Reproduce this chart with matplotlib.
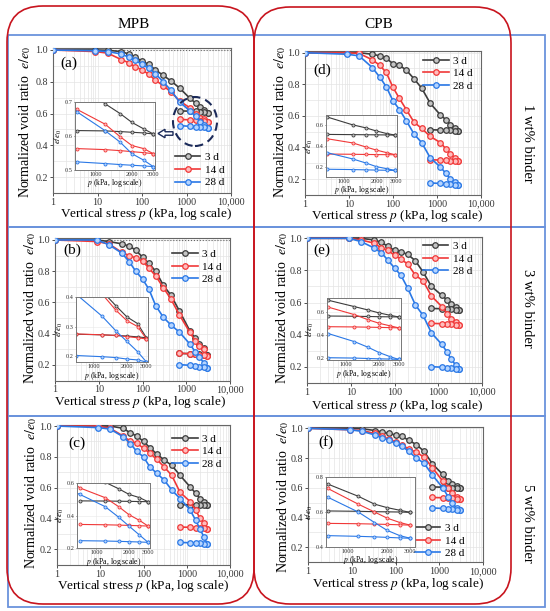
import matplotlib
matplotlib.use("Agg")
import matplotlib.pyplot as plt
from matplotlib.patches import FancyBboxPatch, Rectangle, Ellipse, FancyArrow
from matplotlib.ticker import FixedLocator, NullFormatter, MultipleLocator, LogLocator, FixedFormatter

plt.rcParams['font.family'] = ['Liberation Serif', 'DejaVu Serif']
plt.rcParams['mathtext.fontset'] = 'stix'

# ---------------- data ----------------
p_load = [1, 9, 17, 34, 50, 70, 100, 140, 200, 300, 450, 700, 1200, 1600, 2000, 2500, 3000]
p_unload = [3000, 2500, 2000, 1600, 1200, 700]
ages = ["3 d", "14 d", "28 d"]
x_ticks = [1, 10, 100, 1000, 10000]
x_tick_labels = ["1", "10", "100", "1000", "10,000"]
y_ticks = [0.2, 0.4, 0.6, 0.8, 1.0]
inset_x_ticks = [1000, 2000, 3000]

# (a) MPB 1 wt%
a3_load = [1.0, 1.0, 0.998, 0.99, 0.975, 0.955, 0.93, 0.91, 0.875, 0.84, 0.805, 0.76, 0.695, 0.666, 0.64, 0.621, 0.606]
a3_unl = [0.606, 0.609, 0.611, 0.613, 0.615, 0.616]
a14_load = [1.0, 0.99, 0.98, 0.94, 0.92, 0.895, 0.875, 0.848, 0.81, 0.775, 0.735, 0.679, 0.635, 0.598, 0.572, 0.563, 0.548]
a14_unl = [0.548, 0.551, 0.554, 0.557, 0.56, 0.563]
a28_load = [1.0, 0.995, 0.99, 0.975, 0.955, 0.935, 0.91, 0.885, 0.85, 0.8, 0.745, 0.672, 0.616, 0.582, 0.548, 0.529, 0.51]
a28_unl = [0.51, 0.512, 0.514, 0.516, 0.519, 0.524]
# (b) MPB 3 wt%
b3_load = [1.0, 1.0, 0.99, 0.975, 0.96, 0.935, 0.89, 0.85, 0.8, 0.71, 0.645, 0.545, 0.42, 0.37, 0.333, 0.31, 0.262]
b3_unl = [0.262, 0.265, 0.268, 0.27, 0.272, 0.274]
b14_load = [1.0, 0.99, 0.975, 0.92, 0.9, 0.885, 0.865, 0.82, 0.77, 0.695, 0.62, 0.52, 0.41, 0.355, 0.32, 0.3, 0.258]
b14_unl = [0.258, 0.262, 0.266, 0.27, 0.272, 0.275]
b28_load = [1.0, 1.0, 0.97, 0.915, 0.86, 0.8, 0.75, 0.685, 0.58, 0.505, 0.455, 0.41, 0.335, 0.285, 0.25, 0.215, 0.18]
b28_unl = [0.18, 0.187, 0.19, 0.195, 0.198, 0.202]
# (c) MPB 5 wt%
c3_load = [1.0, 1.0, 1.0, 0.985, 0.955, 0.935, 0.9, 0.86, 0.82, 0.78, 0.745, 0.68, 0.605, 0.565, 0.53, 0.51, 0.485]
c3_unl = [0.485, 0.486, 0.487, 0.488, 0.489, 0.49]
c14_load = [1.0, 1.0, 0.985, 0.935, 0.9, 0.89, 0.855, 0.825, 0.785, 0.735, 0.68, 0.57, 0.51, 0.455, 0.405, 0.37, 0.335]
c14_unl = [0.335, 0.337, 0.339, 0.341, 0.343, 0.345]
c28_load = [1.0, 0.99, 0.98, 0.93, 0.885, 0.835, 0.8, 0.735, 0.695, 0.65, 0.585, 0.53, 0.455, 0.39, 0.335, 0.28, 0.235]
c28_unl = [0.235, 0.237, 0.239, 0.241, 0.243, 0.245]
# (d) CPB 1 wt%
d3_load = [1.0, 1.0, 1.0, 0.99, 0.98, 0.965, 0.93, 0.92, 0.89, 0.835, 0.775, 0.68, 0.605, 0.575, 0.545, 0.52, 0.505]
d3_unl = [0.505, 0.507, 0.508, 0.509, 0.51, 0.512]
d14_load = [1.0, 1.0, 0.995, 0.955, 0.92, 0.875, 0.78, 0.71, 0.64, 0.56, 0.52, 0.47, 0.43, 0.39, 0.36, 0.335, 0.315]
d14_unl = [0.315, 0.316, 0.317, 0.318, 0.32, 0.322]
d28_load = [1.0, 0.99, 0.98, 0.905, 0.845, 0.785, 0.695, 0.64, 0.57, 0.485, 0.43, 0.335, 0.275, 0.235, 0.2, 0.18, 0.163]
d28_unl = [0.163, 0.165, 0.167, 0.169, 0.172, 0.175]
# (e) CPB 3 wt%
e3_load = [1.0, 1.0, 1.0, 0.99, 0.975, 0.95, 0.925, 0.915, 0.9, 0.86, 0.79, 0.7, 0.645, 0.615, 0.59, 0.57, 0.555]
e3_unl = [0.555, 0.556, 0.557, 0.559, 0.561, 0.563]
e14_load = [1.0, 1.0, 0.99, 0.97, 0.94, 0.925, 0.895, 0.87, 0.84, 0.77, 0.735, 0.64, 0.575, 0.53, 0.5, 0.478, 0.46]
e14_unl = [0.46, 0.462, 0.464, 0.466, 0.468, 0.47]
e28_load = [1.0, 1.0, 0.98, 0.94, 0.91, 0.865, 0.815, 0.77, 0.69, 0.585, 0.52, 0.41, 0.34, 0.29, 0.245, 0.21, 0.185]
e28_unl = [0.185, 0.188, 0.19, 0.193, 0.197, 0.2]
# (f) CPB 5 wt%
f3_load = [1.0, 1.0, 0.997, 0.985, 0.975, 0.965, 0.955, 0.945, 0.92, 0.89, 0.845, 0.76, 0.69, 0.645, 0.625, 0.61, 0.598]
f3_unl = [0.598, 0.6, 0.601, 0.602, 0.604, 0.606]
f14_load = [1.0, 0.99, 0.985, 0.965, 0.95, 0.925, 0.91, 0.89, 0.86, 0.84, 0.805, 0.735, 0.645, 0.6, 0.565, 0.54, 0.525]
f14_unl = [0.525, 0.527, 0.529, 0.531, 0.533, 0.535]
f28_load = [1.0, 0.99, 0.98, 0.955, 0.935, 0.92, 0.9, 0.88, 0.845, 0.8, 0.765, 0.685, 0.6, 0.54, 0.495, 0.465, 0.45]
f28_unl = [0.45, 0.452, 0.455, 0.458, 0.461, 0.465]

colors = ['#3c3c3c', '#f03838', '#2a78e6']
light = ['#c4c4c4', '#ffbcbc', '#b4d4ff']

W, H = 550, 611
fig = plt.figure(figsize=(5.5, 6.11), dpi=100)


def px_axes(x0, x1, y0, y1):
    return fig.add_axes([x0 / W, 1 - y1 / H, (x1 - x0) / W, (y1 - y0) / H])


def inch(x, y):
    return x / 100.0, (H - y) / 100.0


# ---------------- decorative frames ----------------
blue_c = '#6a93dc'
red_c = '#c8141e'
for (y0, y1) in [(35, 227), (227, 416), (416, 607)]:
    xi, yi = inch(8, y1)
    fig.add_artist(Rectangle((xi, yi), 5.37, (y1 - y0) / 100.0, transform=fig.dpi_scale_trans,
                             fill=False, ec=blue_c, lw=1.3, zorder=-2))
for (x0, x1, y0, y1) in [(7, 254, 6, 604), (254, 511, 7, 604)]:
    xi, yi = inch(x0, y1)
    fig.add_artist(FancyBboxPatch((xi, yi), (x1 - x0) / 100.0, (y1 - y0) / 100.0,
                                  boxstyle="round,pad=0,rounding_size=0.36",
                                  transform=fig.dpi_scale_trans, fill=False, ec=red_c, lw=1.2, zorder=-1))

fig.text(134 / W, 1 - 24 / H, "MPB", ha='center', va='center', fontsize=11)
fig.text(379 / W, 1 - 25 / H, "CPB", ha='center', va='center', fontsize=11)
for y, lab in [(143, "1 wt% binder"), (308, "3 wt% binder"), (523, "5 wt% binder")]:
    fig.text(527 / W, 1 - y / H, lab, ha='center', va='center', rotation=-90, fontsize=10.5)

# ---------------- panels ----------------
panels = [
    dict(tag="(a)", data=[(a3_load, a3_unl), (a14_load, a14_unl), (a28_load, a28_unl)],
         box=(53, 231, 48.4, 192.9), inset=(75, 155, 102, 170), iylim=(0.5, 0.7), iyt=[0.5, 0.6, 0.7],
         ixlim=(680, 3100),
         leg=('lower right', (0.97, 0.03)), tagpos=(0.04, 0.9), ylab=(25, 122), xlab=(146, 214)),
    dict(tag="(b)", data=[(b3_load, b3_unl), (b14_load, b14_unl), (b28_load, b28_unl)],
         box=(55, 230, 238.4, 380.6), inset=(76, 148, 297, 362), iylim=(0.18, 0.4), iyt=[0.2, 0.3, 0.4],
         ixlim=(700, 3100),
         leg=('upper right', (0.96, 0.93)), tagpos=(0.046, 0.918), ylab=(30, 308), xlab=(140, 402)),
    dict(tag="(c)", data=[(c3_load, c3_unl), (c14_load, c14_unl), (c28_load, c28_unl)],
         box=(57, 230, 424.5, 564.8), inset=(77, 150, 483, 548), iylim=(0.2, 0.6), iyt=[0.2, 0.4, 0.6],
         ixlim=(660, 3130),
         leg=('upper right', (0.96, 0.94)), tagpos=(0.064, 0.868), ylab=(31, 493), xlab=(143, 586)),
    dict(tag="(d)", data=[(d3_load, d3_unl), (d14_load, d14_unl), (d28_load, d28_unl)],
         box=(305, 481, 51.1, 194.8), inset=(326, 397, 115, 177), iylim=(0.1, 0.7), iyt=[0.2, 0.4, 0.6],
         ixlim=(680, 3100),
         leg=('upper right', (0.96, 0.975)), tagpos=(0.045, 0.868), ylab=(280, 122), xlab=(397, 216)),
    dict(tag="(e)", data=[(e3_load, e3_unl), (e14_load, e14_unl), (e28_load, e28_unl)],
         box=(307, 482, 236.7, 382.75), inset=(327, 401, 298, 360), iylim=(0.18, 0.72), iyt=[0.2, 0.4, 0.6],
         ixlim=(680, 3150),
         leg=('upper right', (0.95, 0.975)), tagpos=(0.034, 0.909), ylab=(282, 308), xlab=(397, 406)),
    dict(tag="(f)", data=[(f3_load, f3_unl), (f14_load, f14_unl), (f28_load, f28_unl)],
         box=(308, 483, 426.8, 562.2), inset=(326, 415, 477, 547), iylim=(0.4, 0.8), iyt=[0.4, 0.6, 0.8],
         ixlim=(680, 3270),
         leg=('lower right', (0.9, 0.02)), tagpos=(0.057, 0.888), ylab=(283, 497), xlab=(398, 584)),
]

for pnl in panels:
    x0, x1, y0, y1 = pnl['box']
    ax = px_axes(x0, x1, y0, y1)
    handles = []
    for i, (ld, ul) in enumerate(pnl['data']):
        h, = ax.plot(p_load, ld, '-o', color=colors[i], lw=1.2, ms=4.0, mfc=light[i], mec=colors[i],
                     mew=0.9, label=ages[i], zorder=3 + i)
        ax.plot(p_unload, ul, '-o', color=colors[i], lw=1.2, ms=4.0, mfc=light[i], mec=colors[i],
                mew=0.9, zorder=3 + i)
        handles.append(h)
    ax.set_xscale('log')
    ax.set_xlim(1, 10000)
    ax.set_ylim(0.1, 1.01)
    ax.xaxis.set_major_locator(FixedLocator(x_ticks))
    ax.xaxis.set_major_formatter(FixedFormatter(x_tick_labels))
    ax.xaxis.set_minor_locator(LogLocator(base=10, subs=range(2, 10)))
    ax.xaxis.set_minor_formatter(NullFormatter())
    ax.yaxis.set_major_locator(FixedLocator(y_ticks))
    ax.yaxis.set_major_formatter(FixedFormatter(["0.2", "0.4", "0.6", "0.8", "1.0"]))
    ax.yaxis.set_minor_locator(MultipleLocator(0.1))
    ax.grid(True, which='both', color='#e4e4e4', lw=0.5, zorder=0)
    ax.set_axisbelow(True)
    ax.tick_params(which='both', labelsize=7.2, length=2, width=0.6, direction='out', pad=1.5, colors='#333333')
    ax.tick_params(which='minor', length=0)
    for s in ax.spines.values():
        s.set_color('#666666')
        s.set_linewidth(0.8)
    if pnl['tag'] in ("(a)", "(b)"):
        ax.axhline(1.0, color='#666666', lw=0.8, ls=':', zorder=2)
    ax.text(pnl['tagpos'][0], pnl['tagpos'][1], pnl['tag'], transform=ax.transAxes,
            ha='left', va='center', fontsize=11)
    ax.legend(handles=handles, loc=pnl['leg'][0], bbox_to_anchor=pnl['leg'][1], frameon=False,
              fontsize=8, handlelength=2.3, handletextpad=0.4, labelspacing=0.25, borderpad=0.1,
              borderaxespad=0)
    fig.text(pnl['ylab'][0] / W, 1 - pnl['ylab'][1] / H, r"Normalized void ratio  $e/e_0$",
             rotation=90, ha='center', va='center', fontsize=10)
    fig.text(pnl['xlab'][0] / W, 1 - pnl['xlab'][1] / H, r"Vertical stress $p$ (kPa, log scale)",
             ha='center', va='center', fontsize=9.5)

    # inset
    ix0, ix1, iy0, iy1 = pnl['inset']
    ins = px_axes(ix0, ix1, iy0, iy1)
    ins.set_zorder(10)
    for i, (ld, ul) in enumerate(pnl['data']):
        ins.plot(p_load, ld, '-o', color=colors[i], lw=0.8, ms=2.2, mfc=light[i], mec=colors[i], mew=0.6)
        ins.plot(p_unload, ul, '-o', color=colors[i], lw=0.8, ms=2.2, mfc=light[i], mec=colors[i], mew=0.6)
    ins.set_xscale('log')
    ins.set_xlim(*pnl['ixlim'])
    ins.set_ylim(*pnl['iylim'])
    ins.xaxis.set_major_locator(FixedLocator(inset_x_ticks))
    ins.xaxis.set_major_formatter(FixedFormatter(["1000", "2000", "3000"]))
    ins.xaxis.set_minor_locator(FixedLocator([1500, 2500]))
    ins.xaxis.set_minor_formatter(NullFormatter())
    ins.yaxis.set_major_locator(FixedLocator(pnl['iyt']))
    ins.yaxis.set_major_formatter(FixedFormatter([("%.1f" % v) for v in pnl['iyt']]))
    ins.grid(True, which='both', color='#e8e8e8', lw=0.4)
    ins.set_axisbelow(True)
    ins.tick_params(which='both', labelsize=4.5, length=1, width=0.5, pad=0.5, colors='#333333')
    ins.tick_params(which='minor', length=0)
    for s in ins.spines.values():
        s.set_color('#777777')
        s.set_linewidth(0.7)
    ins.set_xlabel(r"$p$ (kPa, log scale)", fontsize=5.5, labelpad=0.3)
    ins.set_ylabel(r"$e/e_0$", fontsize=6.5, labelpad=0.5)

# dashed ellipse and hollow arrow in panel (a)
ex, ey = inch(195, 121.5)
fig.add_artist(Ellipse((ex, ey), 0.44, 0.49, transform=fig.dpi_scale_trans, fill=False,
                       ls=(0, (4, 2.5)), ec='#1c2b5a', lw=1.5, zorder=20))
axx, axy = inch(173, 133.5)
fig.add_artist(FancyArrow(axx, axy, -0.15, 0, width=0.035, head_width=0.085, head_length=0.07,
                          length_includes_head=True, fc='white', ec='#1c2b5a', lw=1.0,
                          transform=fig.dpi_scale_trans, zorder=20))

fig.savefig("out.png", dpi=100)
